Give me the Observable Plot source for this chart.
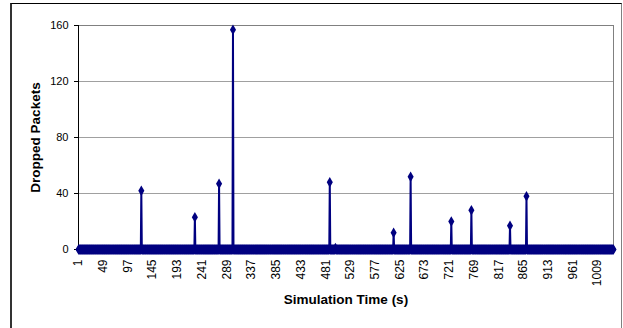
<!DOCTYPE html>
<html><head><meta charset="utf-8">
<script src="https://cdn.jsdelivr.net/npm/d3@7"></script>
<script src="https://cdn.jsdelivr.net/npm/@observablehq/plot@0.6"></script>
<style>
html,body{margin:0;padding:0;background:#fff;}
#wrap{position:relative;width:623px;height:328px;overflow:hidden;}
#wrap svg{position:absolute;left:0;top:0;}
#border{position:absolute;left:10px;top:3px;width:612px;height:340px;border-left:2px solid #333;border-top:1px solid #000;border-right:1px solid #808080;box-sizing:border-box;pointer-events:none;}
</style></head><body><div id="wrap"></div>
<script>
// Simulation length (seconds / categories)
const nSeconds = 1040;
// Non-zero dropped-packet events (all other seconds are 0)
const spikeTimes  = [123, 227, 274, 301, 489, 500, 613, 646, 725, 764, 839, 871];
const spikeValues = [ 42,  23,  47, 157,  48,   1,  12,  52,  20,  28,  17,  38];
const yTicks = [0, 40, 80, 120, 160];
const xLabelStep = 48;
const xTitle = "Simulation Time (s)";
const yTitle = "Dropped Packets";

const times = d3.range(1, nSeconds + 1);
const spikeMap = new Map(spikeTimes.map((t, i) => [t, spikeValues[i]]));
const data = times.map(t => ({t, v: spikeMap.get(t) ?? 0}));
const xLabelTicks = times.filter(t => (t - 1) % xLabelStep === 0);

const navy = "#000080";
const chart = Plot.plot({
  width: 623,
  height: 328,
  marginLeft: 78,
  marginRight: 10,
  marginTop: 25,
  marginBottom: 79,
  style: {fontFamily: "'Liberation Sans', Arial, sans-serif", fontSize: "11px", color: "#000", background: "transparent"},
  x: {type: "linear", domain: [1, nSeconds]},
  y: {domain: [0, 160]},
  marks: [
    Plot.gridY(yTicks, {stroke: "#a0a0a0", strokeOpacity: 1}),
    Plot.frame({stroke: "#808080"}),
    Plot.axisY({ticks: yTicks, tickSize: 4, tickPadding: 6, label: null, tickFormat: d => String(d), fontSize: 11}),
    Plot.axisX({ticks: times, tickSize: 5, tickFormat: () => "", label: null, strokeOpacity: 0.35}),
    Plot.axisX({ticks: xLabelTicks, tickRotate: -90, tickSize: 0, tickPadding: 10, label: null, tickFormat: d => String(d), fontSize: 12}),
    Plot.ruleX([1], {stroke: "#000", strokeWidth: 1}),
    Plot.line(data, {x: "t", y: "v", stroke: navy, strokeWidth: 2}),
    Plot.dot(data, {x: "t", y: "v", symbol: "diamond", r: 3.2, fill: navy, stroke: null}),
    Plot.text([xTitle], {frameAnchor: "bottom", dy: 54, fontWeight: "bold", fontSize: 13.5, textAnchor: "middle"}),
    Plot.text([yTitle], {frameAnchor: "left", rotate: -90, dx: -43, fontWeight: "bold", fontSize: 13.5, textAnchor: "middle"})
  ]
});
const wrap = document.getElementById("wrap");
wrap.appendChild(chart);
const b = document.createElement("div");
b.id = "border";
wrap.appendChild(b);
</script>
</body></html>
